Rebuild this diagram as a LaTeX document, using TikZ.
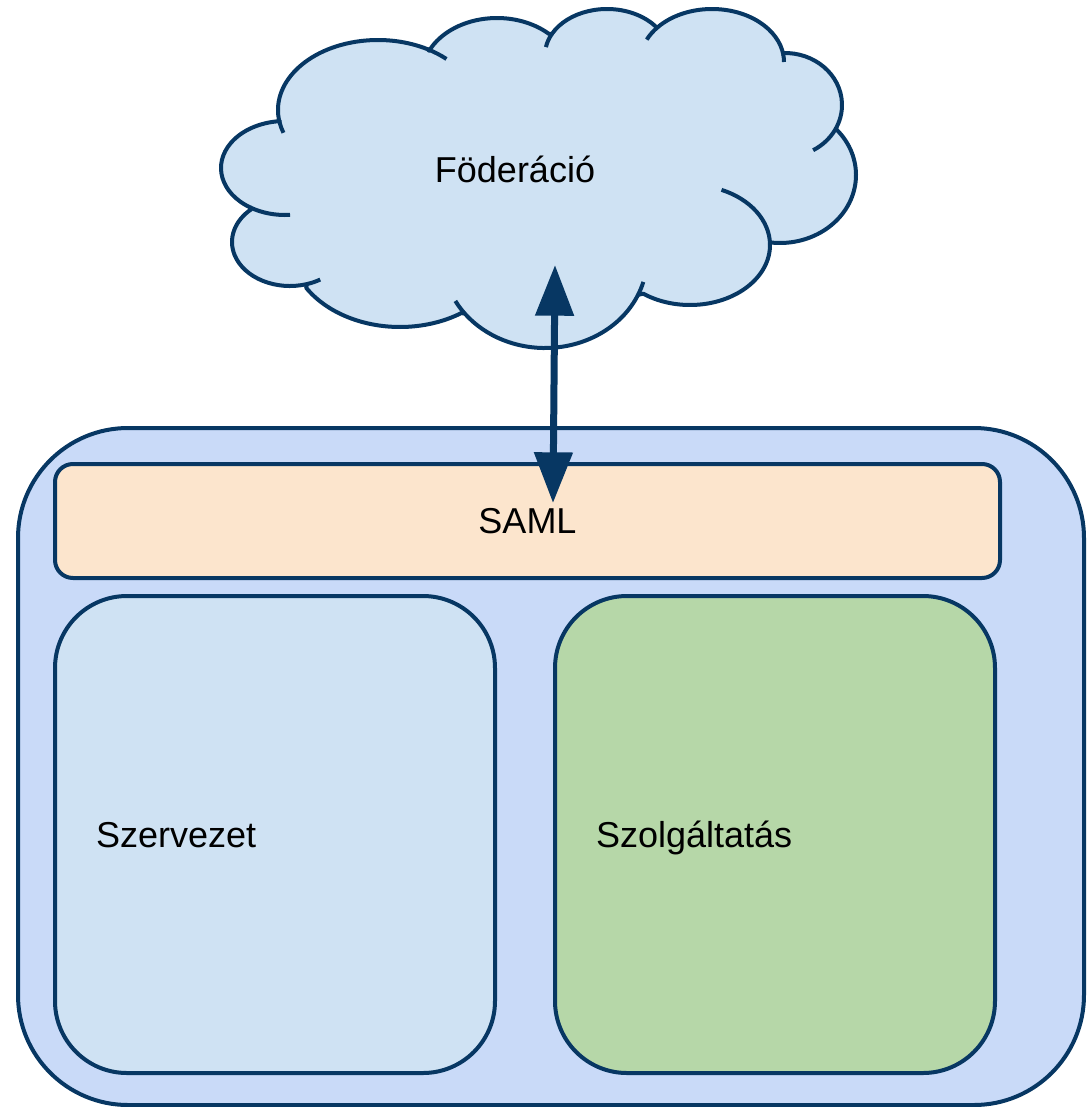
\documentclass[tikz,border=0pt]{standalone}
\usepackage{fontspec}
\setmainfont{Liberation Sans}
\usetikzlibrary{arrows.meta}

\definecolor{inkblue}{HTML}{073763}
\definecolor{panelblue}{HTML}{C9DAF8}
\definecolor{samlorange}{HTML}{FCE5CD}
\definecolor{lightblue}{HTML}{CFE2F3}
\definecolor{lightgreen}{HTML}{B6D7A8}

\tikzset{
  outline/.style={draw=inkblue, line width=3pt},
  box/.style={outline, rectangle, inner sep=0pt, text depth=0pt},
  label/.style={font=\fontsize{27pt}{32pt}\selectfont, text=black, inner sep=0pt},
  biarrow/.style={draw=inkblue, line width=5.25pt,
    {Triangle[length=38pt, width=28pt]}-{Triangle[length=38pt, width=28pt]}},
}

\begin{document}
\begin{tikzpicture}[x=0.75pt, y=-0.75pt]
  \useasboundingbox (0,0) rectangle (1086,1107);

  % outer panel
  \node[box, fill=panelblue, minimum width=799.5pt, minimum height=507.75pt,
        rounded corners=82.5pt] (panel) at (551,766.5) {};

  % SAML bar
  \node[box, label, fill=samlorange, minimum width=708.75pt, minimum height=85.5pt,
        rounded corners=13.5pt] (saml) at (527.5,521) {SAML};

  % organisation and service boxes
  \node[box, label, fill=lightblue, minimum width=330pt, minimum height=357.75pt,
        rounded corners=54pt, text width=268.5pt, align=left, text depth=0pt]
        (org) at (275,834.5) {Szervezet};
  \node[box, label, fill=lightgreen, minimum width=330pt, minimum height=357.75pt,
        rounded corners=54pt, text width=268.5pt, align=left, text depth=0pt]
        (svc) at (775,834.5) {Szolgáltatás};

  % federation cloud: elliptic bumps, clockwise from the upper left
  \draw[outline, fill=lightblue, line join=round]
    ([shift={(170.1:100 and 70)}]378,110)
      arc[start angle=170.1, end angle=299.8, x radius=100, y radius=70]
    -- ([shift={(205.2:75 and 57)}]497,75)
      arc[start angle=205.2, end angle=313.8, x radius=75, y radius=57]
    -- ([shift={(207.5:62 and 46)}]607,55)
      arc[start angle=207.5, end angle=323.5, x radius=62, y radius=46]
    -- ([shift={(221.3:72 and 53)}]712,62)
      arc[start angle=221.3, end angle=352.4, x radius=72, y radius=53]
    -- ([shift={(268:57 and 52)}]785,105)
      arc[start angle=268, end angle=388.7, x radius=57, y radius=52]
    -- ([shift={(-42.4:76 and 68)}]780,175)
      arc[start angle=-42.4, end angle=97.4, x radius=76, y radius=68]
    -- ([shift={(-1:80 and 60)}]690,245)
      arc[start angle=-1, end angle=125.8, x radius=80, y radius=60]
    -- ([shift={(24.2:102 and 90)}]545,258)
      arc[start angle=24.2, end angle=141.8, x radius=102, y radius=90]
    -- ([shift={(56.1:110 and 82)}]400,245)
      arc[start angle=56.1, end angle=148.5, x radius=110, y radius=82]
    -- ([shift={(73.1:58 and 44)}]290,242)
      arc[start angle=73.1, end angle=228.2, x radius=58, y radius=44]
    -- ([shift={(122.7:64 and 47)}]285,168)
      arc[start angle=122.7, end angle=265.4, x radius=64, y radius=47]
    -- cycle;

  % fold lines where the bumps overlap
  \draw[outline, line cap=butt]
    ([shift={(161:100 and 70)}]378,110)
      arc[start angle=161, end angle=170.1, x radius=100, y radius=70]
    ([shift={(299.8:100 and 70)}]378,110)
      arc[start angle=299.8, end angle=313.2, x radius=100, y radius=70]
    ([shift={(189.9:62 and 46)}]607,55)
      arc[start angle=189.9, end angle=207.5, x radius=62, y radius=46]
    ([shift={(205:72 and 53)}]712,62)
      arc[start angle=205, end angle=221.3, x radius=72, y radius=53]
    ([shift={(352.4:72 and 53)}]712,62)
      arc[start angle=352.4, end angle=360, x radius=72, y radius=53]
    ([shift={(388.7:57 and 52)}]785,105)
      arc[start angle=388.7, end angle=420.4, x radius=57, y radius=52]
    ([shift={(-66.8:80 and 60)}]690,245)
      arc[start angle=-66.8, end angle=-1, x radius=80, y radius=60]
    ([shift={(15.4:102 and 90)}]545,258)
      arc[start angle=15.4, end angle=24.2, x radius=102, y radius=90]
    ([shift={(141.8:102 and 90)}]545,258)
      arc[start angle=141.8, end angle=151.5, x radius=102, y radius=90]
    ([shift={(58.6:58 and 44)}]290,242)
      arc[start angle=58.6, end angle=73.1, x radius=58, y radius=44]
    ([shift={(85.5:64 and 47)}]285,168)
      arc[start angle=85.5, end angle=122.7, x radius=64, y radius=47];

  \node[label, anchor=base] (fed) at (515,182) {Föderáció};

  % link between the federation and the SAML layer
  \coordinate (fedport) at (555,265);
  \coordinate (samlport) at (553,503);
  \draw[biarrow] (samlport) -- (fedport);
\end{tikzpicture}
\end{document}
